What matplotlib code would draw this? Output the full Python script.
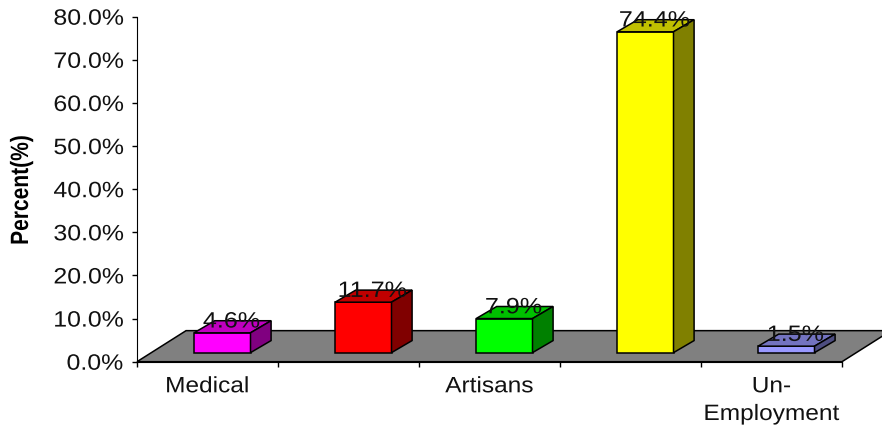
"""
Occupation shares as a pseudo-3D column chart on a grey floor.
"""
import matplotlib
matplotlib.use("Agg")
import matplotlib.pyplot as plt
import numpy as np
from matplotlib.patches import Polygon
from matplotlib.patheffects import AbstractPathEffect
from matplotlib.transforms import Affine2D

CATEGORIES = ["Medical", "", "Artisans", "", "Un-\nEmployment"]
SHARES = [4.6, 11.7, 7.9, 74.4, 1.5]
Y_TICKS = [0, 10, 20, 30, 40, 50, 60, 70, 80]

FRONT = ["#FF00FF", "#FF0000", "#00FF00", "#FFFF00", "#9999FF"]
TOP = ["#C000C0", "#C00000", "#00C000", "#C0C000", "#7373C0"]
SIDE = ["#800080", "#800000", "#008000", "#808000", "#4D4D80"]
COLOR_FLOOR = "#808080"

W, H = 882, 426
AX_LEFT, AX_RIGHT = 137, 842
AX_TOP, AX_BOTTOM = 16.7, 361.7

BAR_W = 0.4
BAR_DX = 0.105     # columns sit a little back from the front edge
BAR_BASE = 2.1
DEPTH_X = 0.146
DEPTH_Y = 2.8
FLOOR_X = 0.348
FLOOR_Y = 7.2


class Widen(AbstractPathEffect):
    """Stretches glyphs sideways around the middle of each text line."""

    def __init__(self, factor):
        super().__init__()
        self.factor = factor

    def draw_path(self, renderer, gc, tpath, affine, rgbFace=None):
        cx = tpath.get_extents().x0 + tpath.get_extents().width / 2
        stretch = Affine2D().translate(-cx, 0).scale(self.factor, 1).translate(cx, 0)
        renderer.draw_path(gc, tpath, stretch + affine, rgbFace)


plt.rcParams["font.family"] = ["Liberation Sans", "DejaVu Sans"]

fig = plt.figure(figsize=(W / 100, H / 100), dpi=100)
ax = fig.add_axes([AX_LEFT / W, 1 - AX_BOTTOM / H,
                   (AX_RIGHT - AX_LEFT) / W, (AX_BOTTOM - AX_TOP) / H])
ax.set_xlim(0, len(SHARES))
ax.set_ylim(0, 80)

for side in ["top", "right"]:
    ax.spines[side].set_visible(False)

# floor runs off the right side of the figure
n = len(SHARES)
ax.add_patch(Polygon([(0, 0), (n, 0), (n + FLOOR_X, FLOOR_Y), (FLOOR_X, FLOOR_Y)],
                     closed=True, facecolor=COLOR_FLOOR, edgecolor="black",
                     linewidth=1.1, clip_on=False, zorder=1))

x = np.arange(n) + 0.5 + BAR_DX
for i, val in enumerate(SHARES):
    l, r = x[i] - BAR_W / 2, x[i] + BAR_W / 2
    t = BAR_BASE + val
    ax.bar(x[i], val, width=BAR_W, bottom=BAR_BASE, color=FRONT[i],
           edgecolor="black", linewidth=1.1, zorder=3)
    ax.add_patch(Polygon([(l, t), (r, t), (r + DEPTH_X, t + DEPTH_Y), (l + DEPTH_X, t + DEPTH_Y)],
                         closed=True, facecolor=TOP[i], edgecolor="black",
                         linewidth=1.1, clip_on=False, zorder=3))
    ax.add_patch(Polygon([(r, BAR_BASE), (r + DEPTH_X, BAR_BASE + DEPTH_Y),
                          (r + DEPTH_X, t + DEPTH_Y), (r, t)],
                         closed=True, facecolor=SIDE[i], edgecolor="black",
                         linewidth=1.1, clip_on=False, zorder=3))
    ax.text(x[i] + 0.065, t + 2.5, f"{val:.1f}%", ha="center", va="center",
            fontsize=16, color="#111111", zorder=5, clip_on=False,
            path_effects=[Widen(1.13)])

ax.set_xticks(np.arange(n + 1))
ax.set_xticklabels([])
ax.set_xticks(np.arange(n) + 0.5, CATEGORIES, minor=True)
ax.tick_params(axis="x", which="major", length=3.6, width=1, color="black")
ax.tick_params(axis="x", which="minor", length=0, pad=10.5)
for lab in ax.get_xticklabels(minor=True):
    lab.set_fontsize(16)
    lab.set_linespacing(1.42)
    lab.set_color("#111111")
    lab.set_path_effects([Widen(1.1)])

ax.set_yticks(Y_TICKS, [f"{v:.1f}%" for v in Y_TICKS])
ax.tick_params(axis="y", length=3.6, width=1, color="black", pad=8.5)
for lab in ax.get_yticklabels():
    lab.set_fontsize(16)
    lab.set_color("#111111")
    lab.set_path_effects([Widen(1.12)])

fig.text(21 / W, 1 - 190 / H, "Percent(%)", rotation=90, ha="center", va="center",
         fontsize=18, fontweight="bold", color="black",
         path_effects=[Widen(0.84)])

fig.savefig("out.png", dpi=100)
